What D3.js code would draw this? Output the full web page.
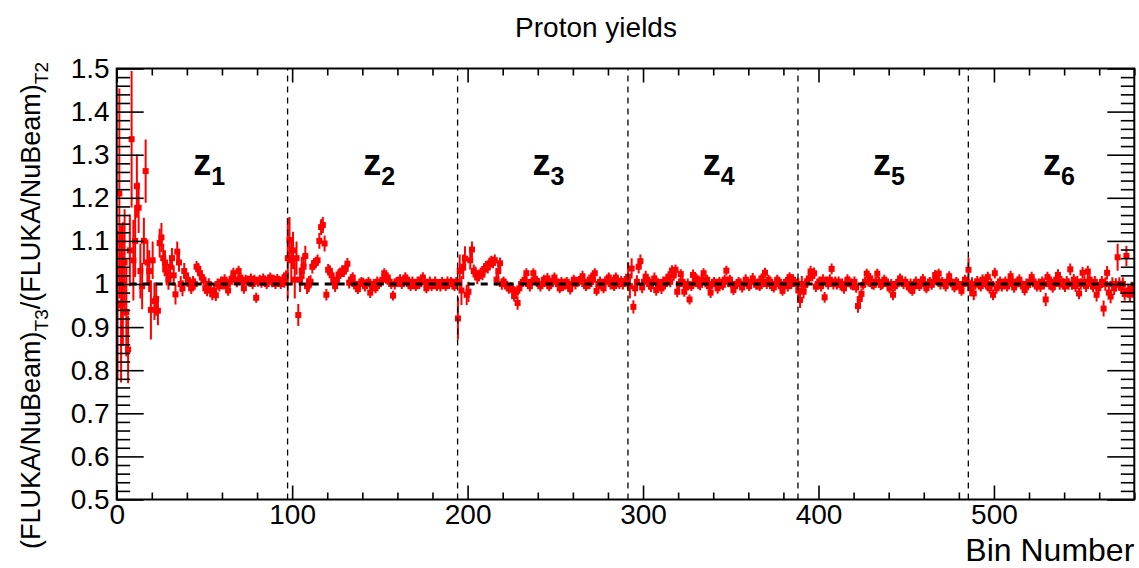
<!DOCTYPE html>
<html><head><meta charset="utf-8">
<script src="https://cdn.jsdelivr.net/npm/d3@7"></script>
<style>body{margin:0;background:#fff}svg{display:block}text{font-family:"Liberation Sans",Arial,Helvetica,sans-serif}</style>
</head><body><svg id="c" width="1139" height="568"></svg>
<script>
// ---------- data ----------
const chartTitle = "Proton yields";
const xDomain = [0, 580];
const yDomain = [0.5, 1.5];
const xMajorTicks = [0, 100, 200, 300, 400, 500];
const yMajorTicks = [0.5, 0.6, 0.7, 0.8, 0.9, 1.0, 1.1, 1.2, 1.3, 1.4, 1.5];
const zoneBoundaries = [97.4, 194.3, 291.4, 388.3, 485.4];
const zoneLabels = ["1", "2", "3", "4", "5", "6"];
const zoneLabelBins = [43.6, 140.5, 237, 334, 431, 528];
const referenceValue = 1.0;

const ratioZ1 = [
0.950,1.210,0.955,1.000,1.050,0.935,0.848,1.078,1.336,1.055,
1.100,1.227,1.177,1.030,0.995,1.100,1.262,1.050,1.030,0.940,
1.055,0.960,0.965,0.938,1.095,1.108,1.060,1.050,1.025,1.010,
1.040,1.060,1.020,0.976,1.075,1.050,1.000,0.990,1.030,1.020,
1.010,1.000,0.990,1.005,1.000,1.040,1.035,1.025,1.015,1.010,
0.990,0.985,1.000,0.985,0.976,0.985,0.974,1.000,0.995,1.005,
1.000,1.010,0.995,0.985,1.005,1.012,1.025,1.010,1.005,1.030,
1.015,1.005,0.990,1.010,1.008,1.005,1.012,1.000,1.010,0.968,
1.005,1.010,1.003,1.012,1.008,1.000,1.010,1.015,1.005,1.010,
1.000,1.012,1.005,1.000,1.010,1.003,1.020];
const ratioZ2 = [
1.060,1.102,1.055,1.078,1.010,1.060,0.928,1.010,1.030,1.040,
1.065,0.995,1.000,1.005,1.040,1.047,1.050,1.055,1.100,1.132,
1.137,1.094,0.975,1.033,1.030,1.020,1.005,0.995,1.010,1.022,
1.025,1.030,1.030,1.035,1.047,1.003,1.010,1.015,1.000,0.995,
0.988,1.000,1.005,1.003,0.995,1.000,1.005,0.980,0.995,1.000,
0.990,1.005,1.000,1.005,1.010,1.025,1.012,1.015,1.005,1.000,
0.973,1.000,1.005,1.005,1.010,1.000,1.005,1.015,1.010,1.000,
0.995,1.005,1.000,0.995,1.005,1.000,1.010,1.015,1.005,0.990,
1.000,1.005,0.995,1.000,1.005,0.995,1.000,0.995,1.005,1.000,
0.995,1.005,1.000,1.005,1.000,0.995,1.005];
const ratioZ3 = [
0.920,1.030,0.985,1.040,1.059,0.975,0.982,1.055,1.080,1.030,
1.025,1.015,1.020,1.025,1.022,1.035,1.040,1.038,1.048,1.052,
1.050,1.055,1.010,1.030,1.048,1.000,1.005,1.000,0.995,0.990,
0.992,0.988,0.972,0.980,0.956,0.990,1.000,1.005,1.010,1.025,
1.000,0.995,1.005,1.025,1.010,1.007,1.000,0.995,1.000,1.010,
1.005,1.013,0.995,1.000,1.007,1.015,1.005,1.000,0.990,1.005,
0.995,1.000,1.005,0.995,0.988,1.000,1.010,1.000,1.005,1.007,
1.010,1.018,1.000,0.995,1.005,1.000,1.015,1.010,1.025,0.984,
1.000,1.005,0.995,0.990,1.005,1.010,1.015,1.000,1.005,0.995,
1.015,1.005,1.000,1.007,1.000,1.007,1.005];
const ratioZ4 = [
1.017,0.995,1.036,0.947,0.990,1.005,1.040,1.053,0.992,1.005,
1.017,1.010,1.000,0.995,1.005,1.013,0.986,1.000,0.998,0.990,
1.005,1.000,1.010,1.017,1.005,1.031,1.020,1.033,0.982,1.000,
1.023,1.005,0.982,0.992,1.000,0.964,0.995,1.021,1.005,1.013,
1.000,0.998,1.010,1.025,1.005,1.010,0.995,0.980,1.000,1.005,
1.000,0.990,1.005,1.000,0.998,1.010,1.031,1.005,1.010,1.000,
0.986,0.995,1.000,1.005,1.000,0.992,1.000,1.010,1.005,0.995,
1.005,1.013,1.005,0.998,1.000,0.995,1.013,1.005,1.026,1.000,
1.010,1.005,0.995,0.992,1.000,1.010,1.005,0.995,0.984,1.000,
1.005,0.995,1.016,1.000,1.010,1.005,1.000];
const ratioZ5 = [
0.985,0.963,1.000,0.982,0.998,1.005,1.013,1.029,1.020,1.025,
0.994,1.000,1.005,0.995,1.010,0.969,1.005,1.000,1.010,1.035,
1.000,1.005,1.000,1.005,0.998,1.000,0.990,1.000,1.010,1.005,
1.000,0.998,1.005,0.992,0.949,0.965,0.977,0.998,1.005,1.024,
1.005,1.013,1.000,0.998,1.005,1.024,1.005,0.998,1.000,1.010,
1.005,1.000,0.990,1.000,0.975,0.995,1.000,1.005,1.013,1.005,
1.000,1.005,1.000,0.992,1.000,0.984,0.995,1.005,1.000,0.995,
1.005,1.011,1.000,0.990,1.000,1.005,0.998,1.005,1.021,1.010,
1.024,1.000,1.005,1.000,0.995,1.005,1.018,1.005,1.000,0.992,
1.005,1.000,0.995,0.984,1.000,1.010,1.005];
const ratioZ6 = [
1.033,0.990,1.000,0.978,1.000,1.005,1.000,0.995,1.010,1.005,
1.000,1.016,0.990,1.000,0.975,1.025,0.990,1.000,1.005,0.995,
1.000,1.005,0.995,1.000,1.018,1.005,0.992,1.000,1.005,1.010,
1.000,0.995,0.986,1.000,0.998,1.005,1.016,1.005,1.000,0.995,
1.000,0.994,1.005,1.000,0.964,1.016,1.000,1.005,0.992,1.000,
1.010,1.021,1.000,1.005,1.000,0.995,1.005,1.000,1.034,1.000,
1.010,0.995,1.005,0.978,1.000,1.026,1.005,0.995,1.029,1.010,
1.000,0.995,1.005,0.975,0.990,0.998,1.005,0.943,1.000,1.026,
0.980,0.971,1.000,0.990,0.998,1.062,1.000,0.992,1.000,0.977,
1.065,0.985,0.975,0.990,0.985];

const errZ1 = [
.17,.24,.18,.14,.12,.10,.075,.08,.155,.09,
.08,.07,.055,.06,.05,.05,.07,.05,.045,.065,
.04,.04,.035,.03,.03,.03,.03,.025,.025,.02,
.02,.02,.02,.02,.02,.018,.015,.015,.015,.012,
.012,.012,.01,.01,.01,.01,.01,.01,.01,.01,
.01,.01,.01,.01,.01,.01,.01,.009,.009,.009,
.009,.009,.009,.009,.009,.009,.009,.009,.009,.009,
.008,.008,.009,.008,.008,.008,.009,.008,.008,.008,
.008,.008,.008,.009,.008,.008,.008,.008,.009,.008,
.008,.008,.008,.008,.009,.008,.008];
const errZ2 = [
.09,.05,.05,.04,.04,.035,.022,.025,.03,.025,
.02,.015,.015,.012,.012,.01,.01,.01,.015,.015,
.015,.015,.01,.01,.01,.01,.01,.01,.01,.01,
.01,.01,.01,.01,.01,.01,.009,.009,.009,.009,
.008,.009,.008,.008,.009,.008,.008,.009,.008,.008,
.008,.009,.008,.008,.009,.008,.008,.009,.008,.008,
.008,.009,.008,.008,.009,.008,.008,.009,.008,.008,
.008,.009,.008,.008,.009,.008,.008,.009,.008,.008,
.008,.009,.008,.008,.009,.008,.008,.009,.008,.008,
.008,.009,.008,.008,.009,.008,.008];
const errZ3 = [
.045,.035,.03,.025,.025,.02,.02,.018,.015,.012,
.012,.012,.01,.01,.01,.01,.01,.01,.01,.01,
.01,.01,.01,.01,.01,.01,.009,.009,.009,.009,
.009,.009,.009,.009,.012,.009,.008,.008,.008,.008,
.008,.009,.008,.008,.009,.008,.008,.009,.008,.008,
.008,.009,.008,.008,.009,.008,.008,.009,.008,.008,
.008,.009,.008,.008,.009,.008,.008,.009,.008,.008,
.008,.009,.008,.008,.009,.008,.008,.009,.008,.008,
.008,.009,.008,.008,.009,.008,.008,.009,.008,.008,
.008,.009,.008,.008,.009,.008,.008];
const errZ4 = [
.03,.025,.02,.012,.015,.012,.012,.012,.01,.01,
.01,.01,.01,.01,.01,.01,.01,.01,.01,.01,
.009,.009,.009,.009,.009,.009,.009,.009,.009,.009,
.008,.009,.008,.008,.009,.008,.008,.009,.008,.008,
.008,.009,.008,.008,.009,.008,.008,.009,.008,.008,
.008,.009,.008,.008,.009,.008,.008,.009,.008,.008,
.008,.009,.008,.008,.009,.008,.008,.009,.008,.008,
.008,.009,.008,.008,.009,.008,.008,.009,.008,.008,
.008,.009,.008,.008,.009,.008,.008,.009,.008,.008,
.008,.009,.008,.008,.009,.008,.008];
const errZ5 = [
.025,.015,.015,.012,.012,.01,.01,.01,.01,.01,
.009,.009,.009,.009,.009,.009,.009,.009,.009,.009,
.009,.009,.009,.009,.009,.009,.009,.009,.009,.009,
.009,.009,.009,.009,.012,.01,.009,.008,.008,.008,
.008,.009,.008,.008,.009,.008,.008,.009,.008,.008,
.008,.009,.008,.008,.009,.008,.008,.009,.008,.008,
.008,.009,.008,.008,.009,.008,.008,.009,.008,.008,
.008,.009,.008,.008,.009,.008,.008,.009,.008,.008,
.008,.009,.008,.008,.009,.008,.008,.009,.008,.008,
.008,.009,.008,.008,.009,.008,.008];
const errZ6 = [
.025,.015,.012,.012,.01,.01,.009,.009,.009,.009,
.009,.009,.009,.009,.009,.009,.009,.009,.009,.009,
.009,.009,.009,.009,.009,.009,.009,.009,.009,.009,
.009,.009,.009,.009,.009,.009,.009,.009,.009,.009,
.009,.009,.009,.009,.012,.009,.009,.009,.009,.009,
.01,.01,.01,.01,.01,.01,.01,.01,.01,.01,
.01,.01,.01,.01,.01,.01,.01,.01,.01,.01,
.01,.01,.01,.012,.012,.01,.01,.015,.012,.012,
.012,.012,.012,.012,.012,.028,.012,.012,.012,.012,
.02,.012,.012,.012,.012];

// ---------- layout ----------
const W = 1139, H = 568;
const L = 116.7, R = 1134.3, T = 68.5, B = 499.5;
const RED = "#ff0000";

const svg = d3.select("#c");
svg.append("rect").attr("width", W).attr("height", H).attr("fill", "#fff");

const x = d3.scaleLinear().domain(xDomain).range([L, R]);
const y = d3.scaleLinear().domain(yDomain).range([B, T]);

const ratio = [].concat(ratioZ1, ratioZ2, ratioZ3, ratioZ4, ratioZ5, ratioZ6);
const errs = [].concat(errZ1, errZ2, errZ3, errZ4, errZ5, errZ6);
const pts = ratio.map((v, i) => ({ b: i + 0.5, v: v, e: errs[i] }));

svg.append("clipPath").attr("id", "frameClip")
  .append("rect").attr("x", L).attr("y", T).attr("width", R - L).attr("height", B - T);

// ---------- data ----------
const gData = svg.append("g").attr("clip-path", "url(#frameClip)");
gData.selectAll("line.ev").data(pts).join("line").attr("class", "ev")
  .attr("x1", d => x(d.b)).attr("x2", d => x(d.b))
  .attr("y1", d => y(d.v - d.e) + 1.5).attr("y2", d => y(d.v + d.e) - 1.5)
  .attr("stroke", RED).attr("stroke-width", 2);
gData.selectAll("line.eh").data(pts).join("line").attr("class", "eh")
  .attr("x1", d => x(d.b - 0.5)).attr("x2", d => x(d.b + 0.5))
  .attr("y1", d => y(d.v)).attr("y2", d => y(d.v))
  .attr("stroke", RED).attr("stroke-width", 2);
const MS = 6;
gData.selectAll("rect.m").data(pts).join("rect").attr("class", "m")
  .attr("x", d => x(d.b) - MS / 2).attr("y", d => y(d.v) - MS / 2)
  .attr("width", MS).attr("height", MS).attr("fill", RED);

// ---------- dashed lines ----------
svg.append("line")
  .attr("x1", x(xDomain[0])).attr("x2", x(xDomain[1]))
  .attr("y1", y(referenceValue)).attr("y2", y(referenceValue))
  .attr("stroke", "#000").attr("stroke-width", 3).attr("stroke-dasharray", "7,6");
svg.selectAll("line.zb").data(zoneBoundaries).join("line").attr("class", "zb")
  .attr("x1", d => x(d)).attr("x2", d => x(d))
  .attr("y1", y(yDomain[0])).attr("y2", y(yDomain[1]))
  .attr("stroke", "#000").attr("stroke-width", 1.3).attr("stroke-dasharray", "6,5");

// ---------- axes ----------
const xMinor = d3.range(xDomain[0], xDomain[1] + 1, 20).filter(v => v % 100 !== 0);
const yMinor = d3.range(25, 76).map(v => v / 50).filter(v => Math.abs(v * 10 - Math.round(v * 10)) > 1e-6);
const fmtY = d => String(+d.toFixed(1));

function styleAxis(g, fs) {
  g.select(".domain").remove();
  g.selectAll(".tick line").attr("stroke", "#000").attr("stroke-width", 1.6);
  g.selectAll(".tick text").attr("fill", "#000").style("font-size", fs + "px");
}
// bottom
svg.append("g").attr("transform", `translate(0,${B})`)
  .call(d3.axisBottom(x).tickValues(xMajorTicks).tickSize(-14).tickPadding(5).tickFormat(d3.format("d")))
  .call(g => styleAxis(g, 28));
svg.append("g").attr("transform", `translate(0,${B})`)
  .call(d3.axisBottom(x).tickValues(xMinor).tickSize(-7).tickFormat(""))
  .call(g => styleAxis(g, 28));
// top
svg.append("g").attr("transform", `translate(0,${T})`)
  .call(d3.axisTop(x).tickValues(xMajorTicks).tickSize(-14).tickFormat(""))
  .call(g => styleAxis(g, 28));
svg.append("g").attr("transform", `translate(0,${T})`)
  .call(d3.axisTop(x).tickValues(xMinor).tickSize(-7).tickFormat(""))
  .call(g => styleAxis(g, 28));
// left
svg.append("g").attr("transform", `translate(${L},0)`)
  .call(d3.axisLeft(y).tickValues(yMajorTicks).tickSize(-27).tickPadding(7).tickFormat(fmtY))
  .call(g => styleAxis(g, 28));
svg.append("g").attr("transform", `translate(${L},0)`)
  .call(d3.axisLeft(y).tickValues(yMinor).tickSize(-13.5).tickFormat(""))
  .call(g => styleAxis(g, 28));
// right
svg.append("g").attr("transform", `translate(${R},0)`)
  .call(d3.axisRight(y).tickValues(yMajorTicks).tickSize(-27).tickFormat(""))
  .call(g => styleAxis(g, 28));
svg.append("g").attr("transform", `translate(${R},0)`)
  .call(d3.axisRight(y).tickValues(yMinor).tickSize(-13.5).tickFormat(""))
  .call(g => styleAxis(g, 28));
svg.selectAll(".tick text").attr("font-family", null);

// frame
svg.append("rect").attr("x", L).attr("y", T).attr("width", R - L).attr("height", B - T)
  .attr("fill", "none").attr("stroke", "#000").attr("stroke-width", 2);

// ---------- texts ----------
svg.append("text").attr("x", 596).attr("y", 37).attr("text-anchor", "middle")
  .style("font-size", "28px").text(chartTitle);

svg.append("text").attr("x", R).attr("y", 561).attr("text-anchor", "end")
  .style("font-size", "32px").text("Bin Number");

const yt = svg.append("text").attr("transform", "translate(40,62) rotate(-90)")
  .attr("text-anchor", "end").style("font-size", "27px");
yt.append("tspan").text("(FLUKA/NuBeam)");
yt.append("tspan").attr("dy", 8).style("font-size", "19px").text("T3");
yt.append("tspan").attr("dy", -8).text("/(FLUKA/NuBeam)");
yt.append("tspan").attr("dy", 8).style("font-size", "19px").text("T2");

const zl = svg.selectAll("text.zl").data(zoneLabels).join("text").attr("class", "zl")
  .attr("x", (d, i) => x(zoneLabelBins[i])).attr("y", 175)
  .style("font-size", "36px").style("font-weight", "bold");
zl.append("tspan").text("z");
zl.append("tspan").attr("dy", 10).style("font-size", "25px").text(d => d);
</script></body></html>
